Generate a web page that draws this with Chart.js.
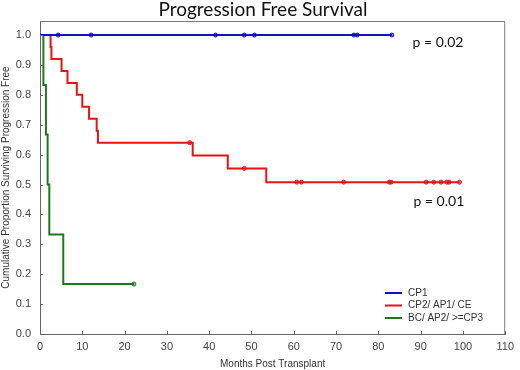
<!DOCTYPE html>
<html>
<head>
<meta charset="utf-8">
<script src="https://cdn.jsdelivr.net/npm/chart.js@4.4.1/dist/chart.umd.min.js"></script>
<style>
  html, body { margin: 0; padding: 0; background: #fff; }
  #wrap { width: 520px; height: 370px; }
</style>
</head>
<body>
<div id="wrap"><canvas id="pfs"></canvas></div>
<script>
// Kaplan-Meier steps (months, proportion)
const cp1Times = [0, 83.2];
const cp1Levels = [1.0, 1.0];
const cp1CensorTimes = [4.3, 12.1, 41.5, 48.3, 50.7, 74.2, 75.0, 83.2];
const cp1CensorLevels = [1, 1, 1, 1, 1, 1, 1, 1];

const cp2Times = [0, 2.5, 2.7, 5.1, 6.5, 8.7, 10.0, 11.6, 13.4, 13.7, 36.1, 44.4, 53.5, 99.2];
const cp2Levels = [1.0, 0.96, 0.92, 0.88, 0.84, 0.80, 0.76, 0.72, 0.68, 0.64, 0.597, 0.554, 0.508, 0.508];
const cp2CensorTimes = [35.4, 48.3, 60.7, 61.8, 71.8, 82.6, 83.0, 91.3, 93.1, 94.8, 96.2, 96.7, 99.2];
const cp2CensorLevels = [0.64, 0.554, 0.508, 0.508, 0.508, 0.508, 0.508, 0.508, 0.508, 0.508, 0.508, 0.508, 0.508];

const bcTimes = [0, 0.8, 1.4, 1.8, 2.2, 5.5, 22.2];
const bcLevels = [1.0, 0.833, 0.667, 0.5, 0.333, 0.167, 0.167];
const bcCensorTimes = [22.2];
const bcCensorLevels = [0.167];

const groupLabels = ["CP1", "CP2/ AP1/ CE", "BC/ AP2/ >=CP3"];
const groupColors = ["#1010c8", "#e41414", "#1c7a1c"];

const pTexts = ["p = 0.02", "p = 0.01"];
const pX = [88.1, 88.3];
const pY = [0.975, 0.443];

const xTicks = [0, 10, 20, 30, 40, 50, 60, 70, 80, 90, 100, 110];

function toPoints(xs, ys) {
  return xs.map((x, i) => ({x: x, y: ys[i]}));
}

function curve(label, xs, ys, color) {
  return {
    label: label,
    data: toPoints(xs, ys),
    borderColor: color,
    backgroundColor: color,
    borderWidth: 2,
    stepped: "before",
    pointRadius: 0,
    fill: false,
  };
}

function censor(xs, ys, color) {
  return {
    label: "",
    data: toPoints(xs, ys),
    showLine: false,
    borderColor: color,
    backgroundColor: color + "88",
    borderWidth: 1,
    pointRadius: 2,
    pointStyle: "circle",
  };
}

const decorations = {
  id: "decorations",
  afterDraw(chart) {
    const ctx = chart.ctx;
    const a = chart.chartArea;
    const xs = chart.scales.x, ys = chart.scales.y;
    ctx.save();
    // box on top and right
    ctx.strokeStyle = "#7a7a7a";
    ctx.lineWidth = 1;
    ctx.beginPath();
    ctx.moveTo(a.left, a.top + 0.5);
    ctx.lineTo(a.right - 0.5, a.top + 0.5);
    ctx.lineTo(a.right - 0.5, a.bottom);
    ctx.stroke();
    // inward tick marks
    ctx.strokeStyle = "#666";
    ctx.beginPath();
    xTicks.forEach((v) => {
      const px = Math.round(xs.getPixelForValue(v)) + 0.5;
      ctx.moveTo(px, a.bottom);
      ctx.lineTo(px, a.bottom - 3);
    });
    for (let v = 0; v <= 10; v++) {
      const py = Math.round(ys.getPixelForValue(v / 10)) + 0.5;
      ctx.moveTo(a.left, py);
      ctx.lineTo(a.left + 3, py);
    }
    ctx.stroke();

    // title
    ctx.fillStyle = "#111";
    ctx.font = "19px Lato";
    ctx.textAlign = "center";
    ctx.textBaseline = "alphabetic";
    ctx.fillText("Progression Free Survival", 263, 16);

    // p values
    ctx.font = "14px Lato";
    ctx.textAlign = "left";
    ctx.textBaseline = "middle";
    pTexts.forEach((t, i) => {
      ctx.fillText(t, xs.getPixelForValue(pX[i]), ys.getPixelForValue(pY[i]));
    });

    // legend inside the plot
    ctx.font = "10px 'Liberation Sans'";
    ctx.fillStyle = "#333";
    groupLabels.forEach((lab, i) => {
      const y = 293 + i * 12.5;
      ctx.strokeStyle = groupColors[i];
      ctx.lineWidth = 2;
      ctx.beginPath();
      ctx.moveTo(385, y);
      ctx.lineTo(402, y);
      ctx.stroke();
      ctx.fillText(lab, 408, y);
    });
    ctx.restore();
  },
};

new Chart(document.getElementById("pfs"), {
  type: "line",
  data: {
    datasets: [
      curve(groupLabels[0], cp1Times, cp1Levels, groupColors[0]),
      curve(groupLabels[1], cp2Times, cp2Levels, groupColors[1]),
      curve(groupLabels[2], bcTimes, bcLevels, groupColors[2]),
      censor(cp1CensorTimes, cp1CensorLevels, groupColors[0]),
      censor(cp2CensorTimes, cp2CensorLevels, groupColors[1]),
      censor(bcCensorTimes, bcCensorLevels, groupColors[2]),
    ],
  },
  options: {
    responsive: true,
    maintainAspectRatio: false,
    animation: false,
    layout: { padding: { top: 21, right: 12, left: 0, bottom: 0 } },
    plugins: {
      legend: { display: false },
      title: { display: false },
      tooltip: { enabled: false },
    },
    scales: {
      x: {
        type: "linear",
        min: 0,
        max: 110,
        afterFit: (s) => { s.height = 36; },
        afterBuildTicks: (s) => { s.ticks = xTicks.map((v) => ({value: v})); },
        grid: { display: false, drawTicks: false },
        border: { display: true, color: "#666", width: 1 },
        ticks: {
          padding: 6,
          color: "#444",
          font: { family: "'Liberation Sans'", size: 11 },
          maxRotation: 0,
          autoSkip: false,
        },
        title: {
          display: true,
          text: "Months Post Transplant",
          color: "#333",
          font: { family: "'Liberation Sans'", size: 10 },
          padding: 0,
        },
      },
      y: {
        min: 0,
        max: 1.047,
        afterFit: (s) => { s.width = 40; },
        grid: { display: false, drawTicks: false },
        border: { display: true, color: "#666", width: 1 },
        ticks: {
          stepSize: 0.1,
          includeBounds: false,
          padding: 9,
          color: "#444",
          font: { family: "'Liberation Sans'", size: 11 },
          callback: (v) => v.toFixed(1),
        },
        title: {
          display: true,
          text: "Cumulative Proportion Surviving Progression Free",
          color: "#333",
          font: { family: "'Liberation Sans'", size: 10 },
          padding: 0,
        },
      },
    },
  },
  plugins: [decorations],
});
</script>
</body>
</html>
